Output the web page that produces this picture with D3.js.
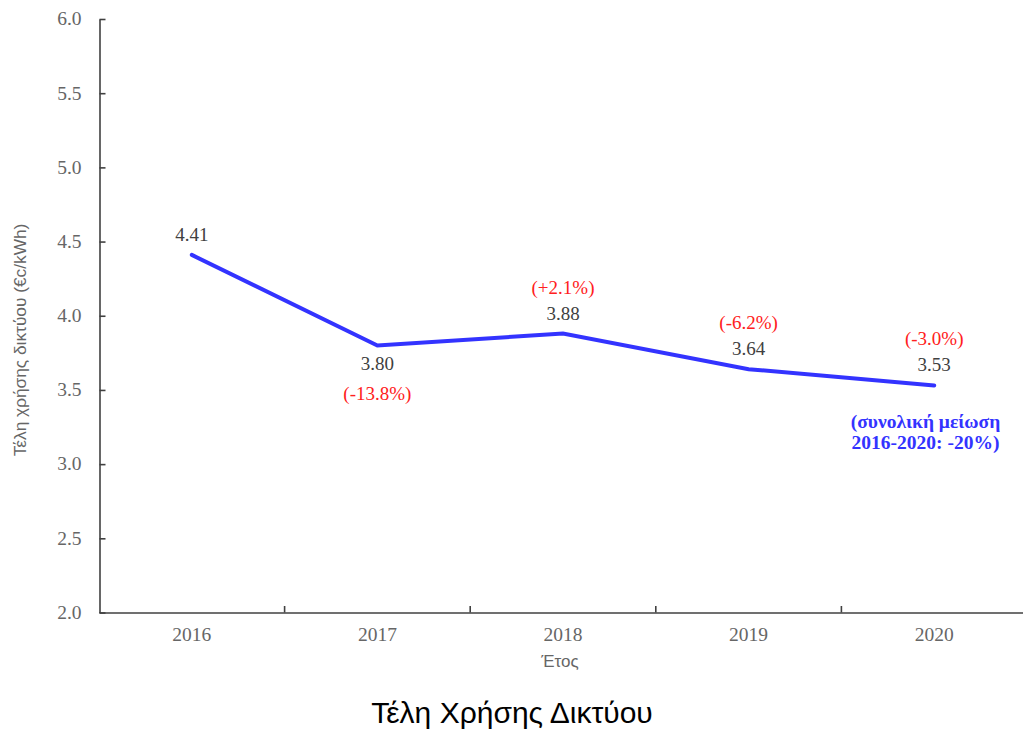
<!DOCTYPE html>
<html><head><meta charset="utf-8">
<script src="https://cdn.jsdelivr.net/npm/d3@7"></script>
<style>body{margin:0;background:#fff}svg{display:block}</style>
</head><body>
<svg id="c" width="1023" height="729"></svg>
<script>
const years = ["2016","2017","2018","2019","2020"];
const values = [4.41, 3.80, 3.88, 3.64, 3.53];
const changes = [null, "(-13.8%)", "(+2.1%)", "(-6.2%)", "(-3.0%)"];
const yTicks = [2.0, 2.5, 3.0, 3.5, 4.0, 4.5, 5.0, 5.5, 6.0];
const noteLines = ["(συνολική μείωση", "2016-2020: -20%)"];

const svg = d3.select("#c");
const x = d3.scaleBand().domain(years).range([99, 1027]);
const y = d3.scaleLinear().domain([2, 6]).range([612.5, 19]);
const serif = "'Liberation Serif','Times New Roman',serif";
const sans = "'Liberation Sans',Arial,sans-serif";
const axisCol = "#404040";

// Y axis
const ya = svg.append("g").attr("transform","translate(99.5,0)")
  .call(d3.axisLeft(y).tickValues(yTicks).tickFormat(d3.format(".1f")).tickSize(0).tickPadding(18));
ya.select(".domain").attr("stroke",axisCol).attr("stroke-width",1.6);
ya.selectAll(".tick text").attr("font-family",serif).attr("font-size",19.5).attr("fill","#666666").attr("dy","0.3em");
ya.selectAll(".tick").append("line").attr("x1",0).attr("x2",6).attr("stroke",axisCol).attr("stroke-width",1.6);

// X axis
const xa = svg.append("g").attr("transform","translate(0,612.5)")
  .call(d3.axisBottom(x).tickSize(0).tickPadding(15));
xa.select(".domain").attr("stroke",axisCol).attr("stroke-width",1.6);
xa.selectAll(".tick text").attr("font-family",serif).attr("font-size",19.5).attr("fill","#666666");
svg.append("g").selectAll("line").data(years.slice(1)).join("line")
  .attr("x1",d=>x(d)).attr("x2",d=>x(d)).attr("y1",612.5).attr("y2",606)
  .attr("stroke",axisCol).attr("stroke-width",1.6);

// Line
const cx = d => x(d) + x.bandwidth()/2;
svg.append("path").datum(values)
  .attr("d", d3.line().x((d,i)=>cx(years[i])).y(d=>y(d)))
  .attr("fill","none").attr("stroke","#3333ff").attr("stroke-width",4).attr("stroke-linecap","round");

// Value labels
svg.append("g").selectAll("text").data(values).join("text")
  .attr("x",(d,i)=>cx(years[i]))
  .attr("y",(d,i)=> i===1 ? y(d)+25 : y(d)-14)
  .attr("text-anchor","middle").attr("font-family",serif).attr("font-size",19).attr("fill","#404040")
  .text(d=>d.toFixed(2));

// Change labels
svg.append("g").selectAll("text").data(changes).join("text")
  .attr("x",(d,i)=>cx(years[i]))
  .attr("y",(d,i)=> i===1 ? y(values[i])+55 : y(values[i])-40)
  .attr("text-anchor","middle").attr("font-family",serif).attr("font-size",19).attr("fill","#ff2020")
  .text(d=>d||"");

// Note
svg.append("g").selectAll("text").data(noteLines).join("text")
  .attr("x",925.5).attr("y",(d,i)=>428+i*20.5)
  .attr("text-anchor","middle").attr("font-family",serif).attr("font-size",19.5).attr("font-weight","bold").attr("fill","#3333ff")
  .text(d=>d);

// Axis titles
svg.append("text").attr("transform","translate(26,340) rotate(-90)")
  .attr("text-anchor","middle").attr("font-family",sans).attr("font-size",17.3).attr("fill","#666666")
  .text("Τέλη χρήσης δικτύου (€c/kWh)");
svg.append("text").attr("x",560).attr("y",667).attr("text-anchor","middle")
  .attr("font-family",sans).attr("font-size",17).attr("fill","#666666").text("Έτος");
svg.append("text").attr("x",512).attr("y",723).attr("text-anchor","middle")
  .attr("font-family",sans).attr("font-size",30).attr("fill","#000").text("Τέλη Χρήσης Δικτύου");
</script>
</body></html>
